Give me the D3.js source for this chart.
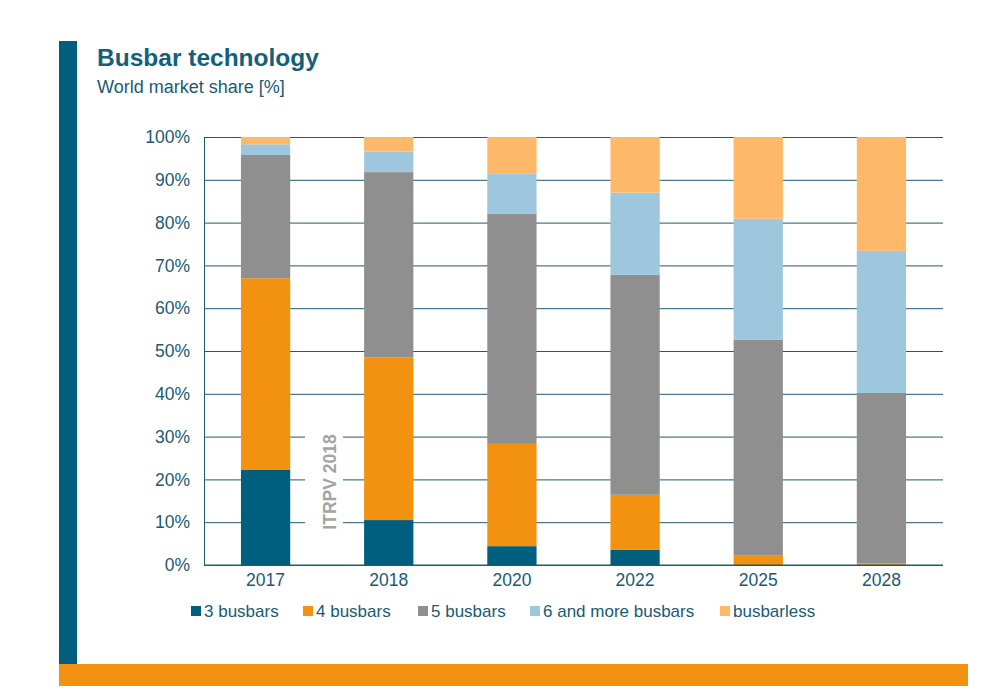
<!DOCTYPE html>
<html><head><meta charset="utf-8">
<script src="https://cdn.jsdelivr.net/npm/d3@7"></script>
<style>body{margin:0;background:#fff}svg{display:block}text{font-family:"Liberation Sans",Arial,sans-serif}</style>
</head><body><svg id="c" width="997" height="695"></svg>
<script>
const years = ["2017","2018","2020","2022","2025","2028"];
const seriesNames = ["3 busbars","4 busbars","5 busbars","6 and more busbars","busbarless"];
const bb3 = [22.2, 10.5, 4.4, 3.6, 0, 0];
const bb4 = [44.8, 38.0, 23.9, 12.8, 2.3, 0.4];
const bb5 = [28.8, 43.3, 53.7, 51.4, 50.3, 39.8];
const bb6 = [2.5, 4.8, 9.4, 19.2, 28.3, 33.2];
const bbless = [1.7, 3.4, 8.6, 13.0, 19.1, 26.6];
const yTicks = [0,10,20,30,40,50,60,70,80,90,100];
const colors = ["#005f7f","#f39110","#8f8f8f","#9ec6dd","#fdb86a"];

const svg = d3.select("#c");
const textCol = "#1b5a73";
// decorative frame
svg.append("rect").attr("x",59).attr("y",41).attr("width",18).attr("height",624).attr("fill","#005f7f");
svg.append("rect").attr("x",59).attr("y",664).attr("width",909).attr("height",22).attr("fill","#f39110");

svg.append("text").attr("x",97).attr("y",66).attr("font-size",24.5).attr("font-weight","bold").attr("fill","#13607e").text("Busbar technology");
svg.append("text").attr("x",97).attr("y",93).attr("font-size",18).attr("fill","#1b5a73").text("World market share [%]");

const x = d3.scaleBand().domain(years).range([204,943]).paddingInner(0.6).paddingOuter(0.3);
const y = d3.scaleLinear().domain([0,100]).range([565,137]);

const table = years.map((yr,i)=>({year:yr, s0:bb3[i], s1:bb4[i], s2:bb5[i], s3:bb6[i], s4:bbless[i]}));
const stack = d3.stack().keys(["s0","s1","s2","s3","s4"])(table);

// grid
const grid = svg.append("g").attr("transform","translate(204,0)")
  .call(d3.axisLeft(y).tickValues(yTicks).tickSize(-739).tickFormat(""));
grid.selectAll("line").attr("stroke","#1f5a6e").attr("stroke-width",1);
grid.select(".domain").attr("stroke","#1f5a6e");

// watermark box
svg.append("rect").attr("x",305).attr("y",428).attr("width",38).attr("height",108).attr("fill","#fff");
svg.append("text").attr("transform","translate(336,482) rotate(-90)").attr("text-anchor","middle")
  .attr("font-size",17.5).attr("font-weight","bold").attr("fill","#a3a3a3").text("ITRPV 2018");

svg.append("g").selectAll("g").data(stack).join("g").attr("fill",(d,i)=>colors[i])
  .selectAll("rect").data(d=>d).join("rect")
  .attr("x",d=>x(d.data.year)).attr("width",x.bandwidth())
  .attr("y",d=>y(d[1])).attr("height",d=>y(d[0])-y(d[1]));

// axes labels
const ya = svg.append("g").attr("transform","translate(204,0)")
  .call(d3.axisLeft(y).tickValues(yTicks).tickSize(0).tickPadding(14).tickFormat(d=>d+"%"));
ya.select(".domain").remove();
ya.selectAll("text").attr("font-size",17.5).attr("fill",textCol).attr("font-family","Liberation Sans, Arial, sans-serif");

const xa = svg.append("g").attr("transform","translate(0,565)")
  .call(d3.axisBottom(x).tickSize(0).tickPadding(9));
xa.select(".domain").attr("stroke","#1f5a6e").attr("d","M204,0H943");
xa.selectAll("text").attr("font-size",17.5).attr("fill",textCol).attr("font-family","Liberation Sans, Arial, sans-serif");

// legend
const legX = [191,303,418,530,720];
const lg = svg.append("g").selectAll("g").data(seriesNames).join("g")
  .attr("transform",(d,i)=>`translate(${legX[i]},606)`);
lg.append("rect").attr("width",10).attr("height",10).attr("fill",(d,i)=>colors[i]);
lg.append("text").attr("x",13).attr("y",11).attr("font-size",17).attr("fill",textCol).text(d=>d);
</script></body></html>
